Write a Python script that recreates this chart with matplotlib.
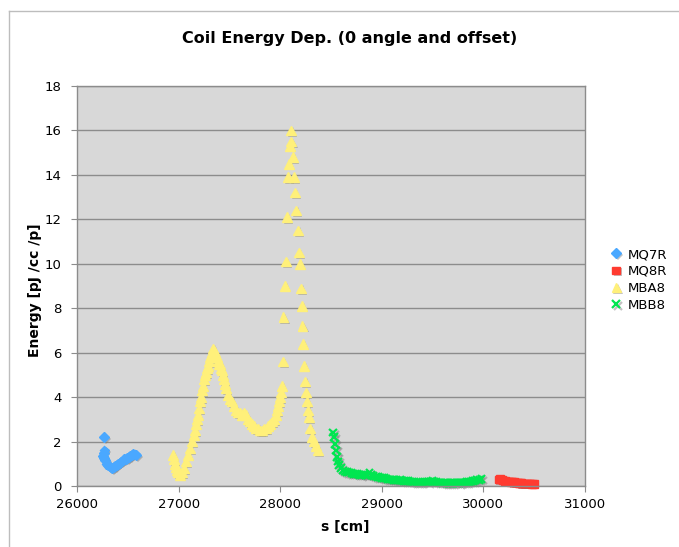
import matplotlib
matplotlib.use("Agg")
import matplotlib.pyplot as plt
import matplotlib.patheffects as pe
from matplotlib.lines import Line2D

# ---------------- data ----------------
mq7r_s = [26266, 26255, 26262, 26270, 26262, 26275, 26290, 26305, 26320, 26335, 26345,
          26360, 26375, 26390, 26405, 26420, 26435, 26450, 26465, 26480, 26495, 26510,
          26525, 26540, 26555, 26570, 26585]
mq7r_e = [2.2, 1.35, 1.5, 1.6, 1.25, 1.15, 1.0, 0.95, 0.88, 0.83, 0.8,
          0.85, 0.9, 0.95, 1.0, 1.05, 1.1, 1.15, 1.2, 1.22, 1.25, 1.3,
          1.35, 1.4, 1.45, 1.42, 1.38]

mq8r_s = [30150, 30165, 30180, 30195, 30210, 30225, 30240, 30255, 30270, 30285, 30300, 30315,
          30330, 30345, 30360, 30375, 30390, 30405, 30420, 30435, 30450, 30465, 30480, 30495]
mq8r_e = [0.3, 0.32, 0.3, 0.25, 0.22, 0.2, 0.2, 0.2, 0.18, 0.17, 0.17, 0.16,
          0.15, 0.14, 0.13, 0.13, 0.12, 0.12, 0.12, 0.11, 0.11, 0.11, 0.1, 0.1]

mba8_s = [26945, 26955, 26965, 26974, 26984, 26994, 27014, 27034, 27053, 27073, 27093, 27112,
          27132, 27152, 27161, 27171, 27181, 27191, 27201, 27211, 27220, 27230, 27240, 27250,
          27260, 27270, 27280, 27289, 27299, 27309, 27319, 27329, 27339, 27348, 27358, 27368,
          27378, 27388, 27398, 27408, 27417, 27427, 27437, 27447, 27457, 27467, 27486, 27506,
          27526, 27545, 27565, 27585, 27604, 27624, 27644, 27663, 27683, 27703, 27722, 27742,
          27762, 27782, 27801, 27821, 27841, 27860, 27880, 27900, 27919, 27939, 27959, 27969,
          27978, 27988, 27998, 28008, 28018, 28028, 28030, 28047, 28057, 28067, 28077, 28087,
          28096, 28106, 28108, 28126, 28136, 28146, 28155, 28175, 28185, 28195, 28205, 28213,
          28217, 28225, 28234, 28244, 28254, 28264, 28274, 28284, 28293, 28313, 28333, 28352,
          28372]
mba8_e = [1.4, 1.2, 1.0, 0.85, 0.7, 0.6, 0.5, 0.6, 0.8, 1.1, 1.4, 1.7,
          2.0, 2.3, 2.5, 2.8, 3.0, 3.2, 3.5, 3.8, 4.0, 4.3, 4.5, 4.8,
          5.0, 5.1, 5.3, 5.4, 5.6, 5.8, 5.9, 6.0, 6.2, 6.1, 6.0, 5.9,
          5.8, 5.6, 5.5, 5.5, 5.3, 5.2, 5.0, 4.8, 4.6, 4.4, 4.1, 3.9,
          3.8, 3.6, 3.4, 3.3, 3.3, 3.2, 3.3, 3.2, 3.0, 2.9, 2.8, 2.7,
          2.6, 2.6, 2.5, 2.5, 2.6, 2.6, 2.7, 2.8, 2.9, 3.0, 3.2, 3.4,
          3.6, 3.8, 4.0, 4.2, 4.5, 5.6, 7.6, 9.0, 10.1, 12.1, 13.9, 14.5,
          15.3, 16.0, 15.5, 14.8, 13.9, 13.2, 12.4, 11.5, 10.5, 10.0, 8.9, 8.1,
          7.2, 6.4, 5.4, 4.7, 4.2, 3.8, 3.4, 3.1, 2.6, 2.2, 2.0, 1.8,
          1.6]

mbb8_s = [28520, 28530, 28540, 28550, 28560, 28570, 28580, 28600, 28620, 28640, 28660, 28680,
          28700, 28720, 28740, 28760, 28780, 28800, 28820, 28840, 28860, 28880, 28900, 28920,
          28940, 28960, 28980, 29000, 29020, 29040, 29060, 29080, 29100, 29120, 29140, 29160,
          29180, 29200, 29220, 29240, 29260, 29280, 29300, 29320, 29340, 29360, 29380, 29400,
          29420, 29440, 29460, 29480, 29500, 29520, 29540, 29560, 29580, 29600, 29620, 29640,
          29660, 29680, 29700, 29720, 29740, 29760, 29780, 29800, 29820, 29840, 29860, 29880,
          29900, 29920, 29940, 29960, 29980]
mbb8_e = [2.4, 2.2, 1.9, 1.6, 1.3, 1.1, 0.95, 0.8, 0.7, 0.65, 0.62, 0.6,
          0.58, 0.55, 0.55, 0.55, 0.5, 0.5, 0.52, 0.5, 0.48, 0.6, 0.5, 0.45,
          0.42, 0.4, 0.38, 0.36, 0.35, 0.33, 0.3, 0.3, 0.3, 0.28, 0.27, 0.25,
          0.26, 0.25, 0.23, 0.22, 0.22, 0.2, 0.2, 0.18, 0.16, 0.15, 0.16, 0.18,
          0.2, 0.18, 0.17, 0.2, 0.22, 0.2, 0.18, 0.16, 0.15, 0.14, 0.15, 0.13,
          0.12, 0.13, 0.14, 0.15, 0.14, 0.13, 0.15, 0.16, 0.15, 0.17, 0.18, 0.2,
          0.22, 0.25, 0.3, 0.28, 0.32]

x_ticks = [26000, 27000, 28000, 29000, 30000, 31000]
y_ticks = [0, 2, 4, 6, 8, 10, 12, 14, 16, 18]

# ---------------- figure ----------------
W, H = 679, 547
fig = plt.figure(figsize=(W / 100, H / 100), dpi=100)
fig.patch.set_facecolor("white")

# chart frame (cut off at right/bottom)
fig.add_artist(Line2D([8.5 / W, 8.5 / W], [0, 1 - 10.5 / H], color="#bdbdbd", lw=1))
fig.add_artist(Line2D([8.5 / W, 1], [1 - 10.5 / H, 1 - 10.5 / H], color="#bdbdbd", lw=1))

L, R, T, B = 77, 585, 86, 486
ax = fig.add_axes([L / W, (H - B) / H, (R - L) / W, (B - T) / H])
ax.set_facecolor("#d8d8d8")
ax.set_xlim(26000, 31000)
ax.set_ylim(0, 18)
ax.set_xticks(x_ticks)
ax.set_yticks(y_ticks)
ax.yaxis.grid(True, color="#8c8c8c", lw=1)
ax.set_axisbelow(True)
for sp in ax.spines.values():
    sp.set_color("#8c8c8c")
    sp.set_linewidth(1)
ax.tick_params(axis="both", direction="out", length=4, color="#8c8c8c",
               labelsize=9.5, labelcolor="black")
ax.tick_params(axis="y", pad=7)
ax.tick_params(axis="x", pad=5)

shadow = [pe.SimplePatchShadow(offset=(1.2, -1.2), shadow_rgbFace="#7a7a7a", alpha=0.45), pe.Normal()]

ax.plot(mq7r_s, mq7r_e, ls="none", marker="D", ms=5, color="#4aa8ff", mec="#4aa8ff",
        label="MQ7R", path_effects=shadow, clip_on=False)
ax.plot(mq8r_s, mq8r_e, ls="none", marker="s", ms=5.5, color="#ff3b30", mec="#ff3b30",
        label="MQ8R", path_effects=shadow, clip_on=False)
ax.plot(mba8_s, mba8_e, ls="none", marker="^", ms=6.8, color="#fff07a", mec="#fff07a",
        label="MBA8", path_effects=shadow, clip_on=False)
ax.plot(mbb8_s, mbb8_e, ls="none", marker="x", ms=5.5, mew=1.6, color="#00e650",
        label="MBB8", path_effects=[pe.SimpleLineShadow(offset=(1.2, -1.2), shadow_color="#7a7a7a", alpha=0.45), pe.Normal()],
        clip_on=False)

fig.text(350 / W, 1 - 38 / H, "Coil Energy Dep. (0 angle and offset)", fontsize=11.5,
         fontweight="bold", ha="center", va="center")
fig.text(345 / W, 1 - 527 / H, "s [cm]", fontsize=10, fontweight="bold", ha="center", va="center")
fig.text(35 / W, 1 - 290 / H, "Energy [pJ /cc /p]", fontsize=10, fontweight="bold",
         ha="center", va="center", rotation=90)

leg = ax.legend(loc="upper left", bbox_to_anchor=(611 / W, 1 - 248 / H), bbox_transform=fig.transFigure,
                frameon=False, fontsize=9.5, handlelength=0.8, handletextpad=0.5, labelspacing=0.3,
                borderaxespad=0, borderpad=0)

fig.savefig("out.png", dpi=100)
